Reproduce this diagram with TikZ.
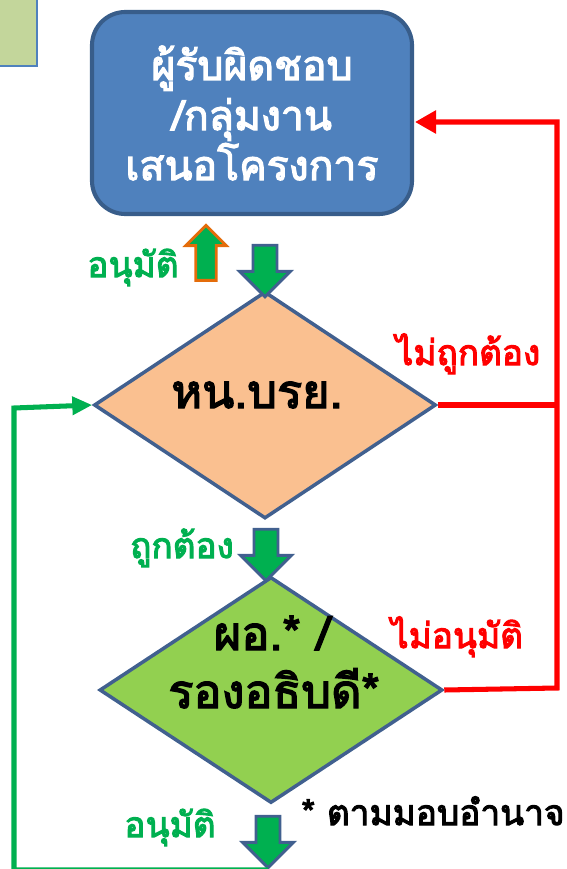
\documentclass[tikz,border=0pt]{standalone}
\usepackage{fontspec}
\newfontfamily\thaifont[Script=Thai,AutoFakeBold=3]{Loma}
\usetikzlibrary{shapes.geometric,shapes.arrows,arrows.meta}
\definecolor{boxblue}{HTML}{4F81BD}
\definecolor{boxedge}{HTML}{385D8A}
\definecolor{shapeedge}{HTML}{41608F}
\definecolor{peach}{HTML}{FAC090}
\definecolor{leaf}{HTML}{92D050}
\definecolor{okgreen}{HTML}{00B050}
\definecolor{nored}{HTML}{FF0000}
\definecolor{tabgreen}{HTML}{C3D69B}
\definecolor{tipfire}{HTML}{E46C0A}
\begin{document}
\begin{tikzpicture}[x=0.03cm,y=-0.03cm,line join=miter]
	\def \colmid{265}
	\def \rowone{405}
	\def \rowtwo{690}
	\def \railx{557}
	\def \backx{14}
	\tikzstyle{t-node}=[font=\thaifont\bfseries\fontsize{35}{42.7}\selectfont,inner sep=0pt]
	\tikzstyle{c-node}=[font=\thaifont\bfseries\fontsize{40}{48}\selectfont,inner sep=0pt,anchor=base]
	\tikzstyle{l-node}=[font=\thaifont\bfseries\fontsize{30}{34}\selectfont,inner sep=0pt,anchor=base]
	\tikzstyle{d-node}=[diamond,draw=shapeedge,line width=3pt,inner sep=0pt]
	\tikzstyle{b-arrow}=[single arrow,draw=shapeedge,fill=okgreen,line width=2.5pt,inner sep=0pt,inner ysep=9pt,minimum width=0pt,single arrow head extend=11.5pt,single arrow tip angle=90,minimum height=44pt,rotate=-90]
	\useasboundingbox (0,0) rectangle (567,869);
	% corner tab
	\draw[fill=tabgreen,draw=boxblue,line width=1.5pt] (-10,-10) rectangle (37,66);
	
	% proposer
	\node[rectangle,rounded corners=1cm,fill=boxblue,draw=boxedge,line width=3.5pt,minimum width=9.6cm,minimum height=6.06cm,text=white,align=center,t-node] (prop) at (252,113) {ผู้รับผิดชอบ\\/กลุ่มงาน\\เสนอโครงการ};
	
	% checks
	\node[d-node,fill=peach,minimum width=10.26cm,minimum height=6.81cm] (chk) at (\colmid,\rowone) {};
	\node[c-node] (chktext) at (257,408) {หน.บรย.};
	\node[d-node,fill=leaf,minimum width=10.29cm,minimum height=6.78cm] (apv) at (271,\rowtwo) {};
	\node[c-node] (apvtext1) at (272,650) {ผอ.* /};
	\node[c-node] (apvtext2) at (274,708) {รองอธิบดี*};
	
	% block arrows
	\node[b-arrow] (down0) at (265,265) {};
	\node[b-arrow,draw=tipfire,inner ysep=7.5pt,single arrow head extend=8.5pt,minimum height=47pt,rotate=180] (up0) at (206,258) {};
	\node[b-arrow] (down1) at (266,549) {};
	\node[b-arrow] (down2) at (268,836) {};
	
	% labels
	\node[l-node,text=okgreen] (lapv0) at (133,277) {อนุมัติ};
	\node[l-node,text=nored] (lbad) at (468,365) {ไม่ถูกต้อง};
	\node[l-node,text=okgreen] (lok) at (182,558) {ถูกต้อง};
	\node[l-node,text=nored] (lrej) at (457,648) {ไม่อนุมัติ};
	\node[l-node,text=okgreen] (lapv1) at (170,837) {อนุมัติ};
	\node[l-node] (lnote) at (433,825) {* ตามมอบอำนาจ};
	
	\coordinate (rtop) at (\railx,122);
	\coordinate (rbot) at (\railx,688);
	\coordinate (gbot) at (\backx,865);
	\coordinate (gtop) at (\backx,408);
	
	\draw[nored,line width=4.3pt,-{Triangle[length=18pt,width=19pt]}]
		(apv.east) -- (rbot) -- (rtop) -- (415,122);
	\draw[nored,line width=4.3pt] (chk.east) -- (chk.east -| rtop);
	\draw[okgreen,line width=4.3pt,-{Triangle[length=17pt,width=15pt]}]
		(down2.tip) -- (down2.tip -| gbot) -- (gtop) -- (chk.west);
\end{tikzpicture}
\end{document}
